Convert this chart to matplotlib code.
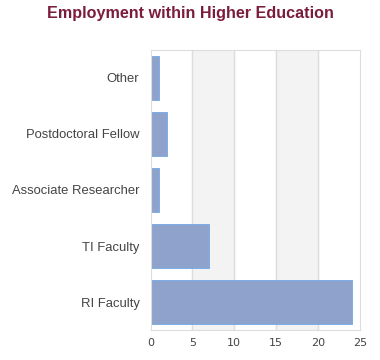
import matplotlib
matplotlib.use("Agg")
from matplotlib import pyplot as plt

categories = ["RI Faculty", "TI Faculty", "Associate Researcher", "Postdoctoral Fellow", "Other"]
counts = [24, 7, 1, 2, 1]
xticks = [0, 5, 10, 15, 20, 25]

plt.rcParams['font.family'] = ['Liberation Sans', 'DejaVu Sans']

fig = plt.figure(figsize=(3.8, 3.6), dpi=100)
ax = fig.add_axes([150.5/380, 30/360, 209.5/380, 280/360])

# alternating bands between grid lines
for i in range(len(xticks) - 1):
    if i % 2 == 1:
        ax.axvspan(xticks[i], xticks[i+1], color='#f3f3f3', zorder=0)
for x in xticks[1:-1]:
    ax.axvline(x, color='#dddddd', lw=1, zorder=1)

ax.barh(range(len(categories)), counts, height=0.77, color='#8ea2cc',
        edgecolor='#6fa8e8', linewidth=0.6, zorder=2)

ax.set_xlim(0, 25)
ax.set_ylim(-0.5, len(categories) - 0.5)
ax.set_xticks(xticks)
ax.set_yticks(range(len(categories)))
ax.set_yticklabels(categories)
ax.tick_params(axis='both', length=0, colors='#444444')
ax.tick_params(axis='y', pad=8, labelsize=9.4)
ax.tick_params(axis='x', pad=6, labelsize=8, labelfontfamily='DejaVu Sans')
for s in ax.spines.values():
    s.set_color('#dddddd')

fig.text(0.5, 0.962, "Employment within Higher Education", ha='center', va='center',
         fontsize=11.6, fontweight='bold', color='#7b1c3c')

fig.savefig("out.png", dpi=100)
